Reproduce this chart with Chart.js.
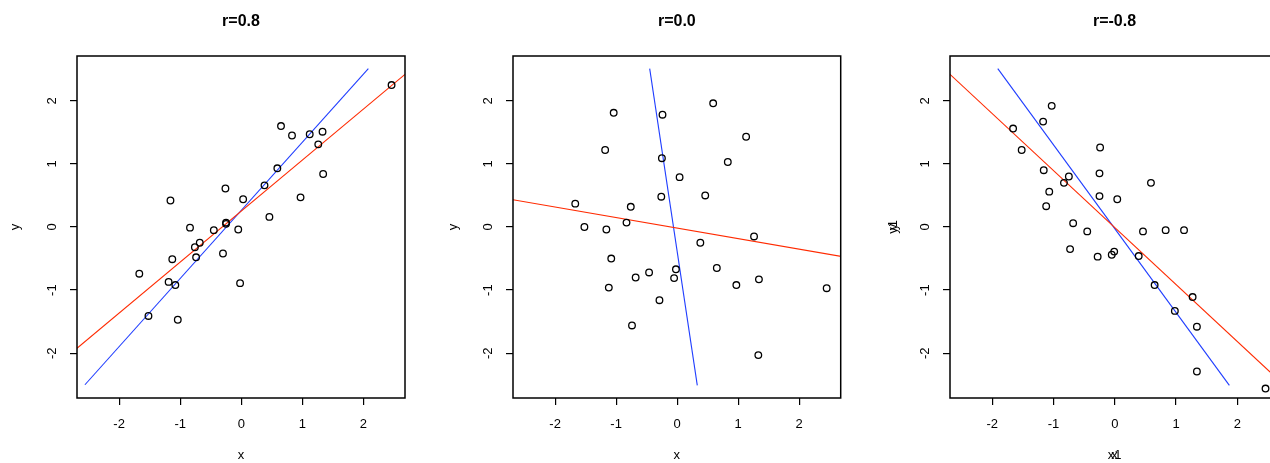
<!DOCTYPE html>
<html lang="en">
<head>
  <meta charset="UTF-8">
  <title>Correlation r=0.8, 0.0, -0.8</title>
  <script src="https://cdn.jsdelivr.net/npm/chart.js"></script>
  <style>
    body { margin: 0; background: #fff; overflow: hidden; }
    #wrap { position: relative; width: 1270px; height: 463px; overflow: hidden; }
    canvas { position: absolute; top: 0; }
  </style>
</head>
<body>
  <div id="wrap">
    <canvas id="c1" width="423" height="463"></canvas>
    <canvas id="c2" width="423" height="463"></canvas>
    <canvas id="c3" width="452" height="463"></canvas>
  </div>

  <script>
    // tick labels and panel titles
    const tickValues = [-2, -1, 0, 1, 2];
    const titles = ['r=0.8', 'r=0.0', 'r=-0.8'];

    // panel 1 (r=0.8)
    const p1x = [2.46, 0.65, 0.83, 1.12, 1.33, 1.26, 0.59, 1.34, 0.38, 0.97, 0.03, -0.26, -1.16, 0.46, -0.25, -0.25, -0.05, -0.45, -0.84, -0.68, -0.76, -0.74, -0.30, -1.13, -1.67, -1.19, -1.08, -0.02, -1.52, -1.04];
    const p1y = [2.25, 1.60, 1.45, 1.47, 1.51, 1.31, 0.93, 0.84, 0.66, 0.47, 0.44, 0.61, 0.42, 0.16, 0.07, 0.05, -0.04, -0.05, -0.01, -0.25, -0.32, -0.48, -0.42, -0.51, -0.74, -0.87, -0.92, -0.89, -1.41, -1.47];
    const red1X = [-2.70, 2.68], red1Y = [-1.93, 2.42];
    const blue1X = [-2.56, 2.08], blue1Y = [-2.50, 2.51];

    // panel 2 (r=0.0)
    const p2x = [0.59, -1.04, -0.24, 1.13, -1.18, -0.25, 0.83, 0.04, 0.46, -0.26, -1.67, -0.76, -0.83, -1.52, -1.16, 1.26, 0.38, -1.08, -0.02, 0.65, -0.46, -0.68, -0.05, 1.34, 0.97, -1.12, 2.45, -0.29, -0.74, 1.33];
    const p2y = [1.96, 1.81, 1.78, 1.43, 1.22, 1.09, 1.03, 0.79, 0.50, 0.48, 0.37, 0.32, 0.07, 0.00, -0.04, -0.15, -0.25, -0.50, -0.67, -0.65, -0.72, -0.80, -0.81, -0.83, -0.92, -0.96, -0.97, -1.16, -1.56, -2.03];
    const red2X = [-2.70, 2.69], red2Y = [0.434, -0.466];
    const blue2X = [-0.45, 0.33], blue2Y = [2.51, -2.51];

    // panel 3 (r=-0.8)
    const p3x = [-1.03, -1.17, -1.66, -1.52, -0.24, -1.16, -0.25, -0.75, -0.83, 0.59, -1.07, -0.25, 0.04, -1.12, -0.68, -0.45, 0.46, 0.83, 1.13, -0.73, -0.01, -0.05, -0.28, 0.39, 0.65, 1.27, 0.98, 1.34, 1.34, 2.46];
    const p3y = [1.92, 1.67, 1.56, 1.22, 1.26, 0.90, 0.85, 0.80, 0.70, 0.70, 0.56, 0.49, 0.44, 0.33, 0.06, -0.07, -0.07, -0.05, -0.05, -0.35, -0.39, -0.44, -0.47, -0.46, -0.92, -1.11, -1.33, -1.58, -2.29, -2.56];
    const red3X = [-2.69, 2.68], red3Y = [2.42, -2.43];
    const blue3X = [-1.91, 1.87], blue3Y = [2.51, -2.51];

    Chart.defaults.font.family = '"Liberation Sans", Arial, sans-serif';
    Chart.defaults.color = '#000';

    const pts = (xs, ys) => xs.map((x, i) => ({ x: x, y: ys[i] }));

    // box around plot, rotated y tick labels, overprinted labels
    const rFrame = {
      id: 'rFrame',
      afterDraw(chart) {
        const ctx = chart.ctx, a = chart.chartArea, opt = chart.options.plugins.rFrame;
        ctx.save();
        ctx.strokeStyle = '#000';
        ctx.lineWidth = 1.5;
        ctx.strokeRect(a.left, a.top, a.right - a.left, a.bottom - a.top);
        ctx.font = '13px "Liberation Sans", Arial, sans-serif';
        ctx.fillStyle = '#000';
        ctx.textAlign = 'center';
        ctx.textBaseline = 'middle';
        const ys = chart.scales.y;
        tickValues.forEach(v => {
          ctx.save();
          ctx.translate(a.left - 25, ys.getPixelForValue(v));
          ctx.rotate(-Math.PI / 2);
          ctx.fillText(String(v), 0, 0);
          ctx.restore();
        });
        if (opt.extraX) {
          ctx.fillText(opt.extraX, (a.left + a.right) / 2, chart.height - 7.8);
          ctx.save();
          ctx.translate(opt.yTitlePad + 7.8, (a.top + a.bottom) / 2);
          ctx.rotate(-Math.PI / 2);
          ctx.fillText(opt.extraY, 0, 0);
          ctx.restore();
        }
        ctx.restore();
      }
    };

    function makePanel(id, left, plotLeft, plotRight, yTitlePad, title, px, py, rx, ry, bx, by, extra) {
      const cv = document.getElementById(id);
      cv.style.left = left + 'px';
      const plotL = plotLeft - left;
      const padRight = cv.width - (plotRight - left);
      new Chart(cv.getContext('2d'), {
        type: 'scatter',
        data: {
          datasets: [
            {
              data: pts(px, py),
              pointStyle: 'circle',
              pointRadius: 3.3,
              pointBorderWidth: 1.3,
              pointBorderColor: '#000',
              pointBackgroundColor: 'rgba(0,0,0,0)'
            },
            {
              data: pts(rx, ry),
              showLine: true,
              borderColor: '#ff2a00',
              borderWidth: 1.1,
              pointRadius: 0
            },
            {
              data: pts(bx, by),
              showLine: true,
              borderColor: '#1f3dff',
              borderWidth: 1.1,
              pointRadius: 0
            }
          ]
        },
        options: {
          responsive: false,
          animation: false,
          layout: { padding: { left: 0, right: padRight, top: 0, bottom: 0 } },
          plugins: {
            legend: { display: false },
            tooltip: { enabled: false },
            title: {
              display: true,
              text: title,
              fullSize: false,
              font: { size: 16, weight: 'bold' },
              padding: { top: 12, bottom: 24.8 }
            },
            rFrame: { extraX: extra ? 'x1' : null, extraY: extra ? 'y1' : null, yTitlePad: yTitlePad }
          },
          scales: {
            x: {
              min: -2.69, max: 2.68,
              afterBuildTicks: s => { s.ticks = tickValues.map(v => ({ value: v })); },
              afterFit: s => { s.height = 65; },
              grid: { drawOnChartArea: false, drawTicks: true, tickLength: 7, lineWidth: 1.2, color: '#000' },
              border: { display: false },
              ticks: { font: { size: 13 }, padding: 12, maxRotation: 0 },
              title: { display: true, text: 'x', font: { size: 13 }, padding: { top: 0, bottom: 0 } }
            },
            y: {
              min: -2.71, max: 2.71,
              afterBuildTicks: s => { s.ticks = tickValues.map(v => ({ value: v })); },
              afterFit: s => { s.width = plotL; },
              grid: { drawOnChartArea: false, drawTicks: true, tickLength: 7, lineWidth: 1.2, color: '#000' },
              border: { display: false },
              ticks: { display: false },
              title: { display: true, text: 'y', font: { size: 13 }, padding: { top: yTitlePad, bottom: 0 } }
            }
          }
        },
        plugins: [rFrame]
      });
    }

    makePanel('c1', 0, 77, 405, 7.5, titles[0], p1x, p1y, red1X, red1Y, blue1X, blue1Y, false);
    makePanel('c2', 423, 513, 843, 22.5, titles[1], p2x, p2y, red2X, red2Y, blue2X, blue2Y, false);
    makePanel('c3', 846, 950, 1279, 39.5, titles[2], p3x, p3y, red3X, red3Y, blue3X, blue3Y, true);
  </script>
</body>
</html>
